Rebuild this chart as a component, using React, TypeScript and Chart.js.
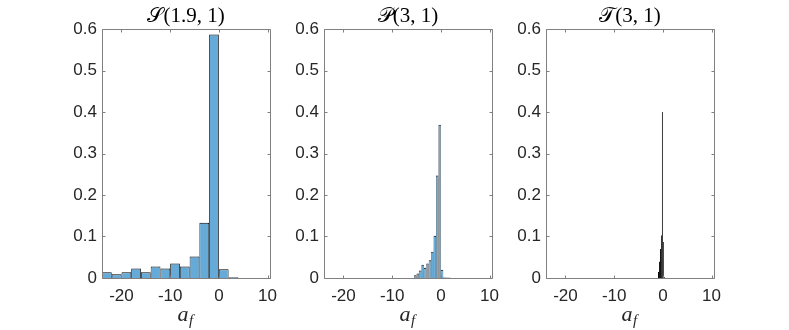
import React, { useEffect, useRef } from "react";
import { Chart, registerables } from "chart.js";

Chart.register(...registerables);

// ---- data ----
const xTicks = [-20, -10, 0, 10];
const xTickLabels = ["-20", "-10", "0", "10"];
const yTicks = [0, 0.1, 0.2, 0.3, 0.4, 0.5, 0.6];
const yTickLabels = ["0", "0.1", "0.2", "0.3", "0.4", "0.5", "0.6"];
const titles = ["𝒮(1.9, 1)", "𝒫(3, 1)", "𝒯(3, 1)"];

// S(1.9,1): bin width 2
const sCenters = [-23, -21, -19, -17, -15, -13, -11, -9, -7, -5, -3, -1, 1, 3];
const sValues = [0.0137, 0.009, 0.0137, 0.0226, 0.0137, 0.028, 0.0226, 0.035, 0.028, 0.052, 0.133, 0.587, 0.021, 0.0016];

// P(3,1): bin width 0.5
const pCenters = [-5.25, -4.75, -4.25, -3.75, -3.25, -2.75, -2.25, -1.75, -1.25, -0.75, -0.25, 0.25, 0.75, 1.25, 1.75];
const pValues = [0.0064, 0.011, 0.018, 0.032, 0.025, 0.035, 0.043, 0.063, 0.102, 0.247, 0.369, 0.02, 0.002, 0.001, 0.001];

// T(3,1): bin width 0.2
const tCenters = [-0.9, -0.7, -0.5, -0.3, -0.1, 0.1, 0.3];
const tValues = [0.015, 0.04, 0.07, 0.103, 0.4, 0.087, 0.003];

const X_MIN = -24;
const X_MAX = 10.5;
const Y_MIN = 0;
const Y_MAX = 0.6;

// ---- styles / layout ----
const FILL = "rgb(102,170,215)";
const EDGE = "rgb(0,0,0)";
const AXIS = "rgb(128,128,128)";
const TEXT = "rgb(38,38,38)";
const AXW = 70;
const PADR = 30;
const PLOT_W = 168;
const CANVAS_W = AXW + PLOT_W + PADR;
const CANVAS_H = 330;
const PLOT_TOP = 29;
const XAXIS_H = 52;
const TICK_LEN = 3;
const panelLefts = [102, 324, 546];
const panelEdgeWidths = [0.8, 0.5, 1];

const framePlugin = {
  id: "frame",
  afterDatasetsDraw(chart: any, _args: any, opts: any) {
    const { ctx, chartArea: a, scales } = chart;
    const x = scales.x;
    const y = scales.y;
    const L = Math.round(a.left) + 0.5;
    const R = Math.round(a.right) + 0.5;
    const T = Math.round(a.top) + 0.5;
    const B = Math.round(a.bottom) + 0.5;
    ctx.save();
    ctx.strokeStyle = AXIS;
    ctx.lineWidth = 1;
    ctx.beginPath();
    ctx.rect(L, T, R - L, B - T);
    for (const v of xTicks) {
      const px = Math.round(x.getPixelForValue(v)) + 0.5;
      ctx.moveTo(px, B);
      ctx.lineTo(px, B - TICK_LEN);
      ctx.moveTo(px, T);
      ctx.lineTo(px, T + TICK_LEN);
    }
    for (const v of yTicks) {
      const py = Math.round(y.getPixelForValue(v)) + 0.5;
      ctx.moveTo(L, py);
      ctx.lineTo(L + TICK_LEN, py);
      ctx.moveTo(R, py);
      ctx.lineTo(R - TICK_LEN, py);
    }
    ctx.stroke();

    // title
    const cx = (a.left + a.right) / 2;
    ctx.fillStyle = "rgb(0,0,0)";
    ctx.font = "21px 'Liberation Serif', 'DejaVu Serif', serif";
    ctx.textAlign = "center";
    ctx.textBaseline = "alphabetic";
    ctx.fillText(opts.title, cx, 22);

    // x label a_f
    ctx.textAlign = "left";
    ctx.font = "italic 22px 'Liberation Serif', serif";
    const wa = ctx.measureText("a").width;
    ctx.font = "italic 15px 'Liberation Serif', serif";
    const wf = ctx.measureText("f").width;
    const start = cx - (wa + wf) / 2 - 1;
    ctx.fillStyle = "rgb(38,38,38)";
    ctx.font = "italic 22px 'Liberation Serif', serif";
    ctx.fillText("a", start, 321);
    ctx.font = "italic 15px 'Liberation Serif', serif";
    ctx.fillText("f", start + wa + 0.5, 325);
    ctx.restore();
  },
};

function Panel(props: { left: number; title: string; centers: number[]; values: number[]; edge: number }) {
  const ref = useRef<HTMLCanvasElement>(null);
  useEffect(() => {
    const chart = new Chart(ref.current as HTMLCanvasElement, {
      type: "bar",
      data: {
        datasets: [
          {
            data: props.centers.map((c, i) => ({ x: c, y: props.values[i] })),
            backgroundColor: FILL,
            borderColor: EDGE,
            borderWidth: { top: 1, left: props.edge, right: props.edge, bottom: 0 },
            inflateAmount: 0,
            barPercentage: 1,
            categoryPercentage: 1,
          } as any,
        ],
      },
      options: {
        animation: false,
        responsive: false,
        maintainAspectRatio: false,
        layout: { padding: { top: PLOT_TOP, right: PADR, left: 0, bottom: 0 } },
        plugins: {
          legend: { display: false },
          tooltip: { enabled: false },
          frame: { title: props.title },
        } as any,
        scales: {
          x: {
            type: "linear",
            min: X_MIN,
            max: X_MAX,
            offset: false,
            grid: { display: false, drawTicks: false },
            border: { display: false },
            afterBuildTicks: (s: any) => {
              s.ticks = xTicks.map((v) => ({ value: v }));
            },
            afterFit: (s: any) => {
              s.height = XAXIS_H;
            },
            ticks: {
              callback: (v: any) => xTickLabels[xTicks.indexOf(Number(v))] ?? "",
              font: { family: "'Liberation Sans', Arial, sans-serif", size: 17 },
              color: TEXT,
              padding: 8,
              maxRotation: 0,
              autoSkip: false,
            },
          },
          y: {
            type: "linear",
            min: Y_MIN,
            max: Y_MAX,
            grid: { display: false, drawTicks: false },
            border: { display: false },
            afterBuildTicks: (s: any) => {
              s.ticks = yTicks.map((v) => ({ value: v }));
            },
            afterFit: (s: any) => {
              s.width = AXW;
            },
            ticks: {
              callback: (v: any) => {
                const i = yTicks.findIndex((t) => Math.abs(t - Number(v)) < 1e-9);
                return i >= 0 ? yTickLabels[i] : "";
              },
              font: { family: "'Liberation Sans', Arial, sans-serif", size: 17 },
              color: TEXT,
              padding: 5,
              autoSkip: false,
            },
          },
        },
      } as any,
      plugins: [framePlugin as any],
    });
    return () => chart.destroy();
  }, []);
  return (
    <canvas
      ref={ref}
      width={CANVAS_W}
      height={CANVAS_H}
      style={{ position: "absolute", left: props.left - AXW, top: 0, width: CANVAS_W, height: CANVAS_H }}
    />
  );
}

export default function App() {
  return (
    <div style={{ position: "fixed", left: 0, top: 0, width: 789, height: 330, background: "#fff", overflow: "hidden" }}>
      <Panel left={panelLefts[0]} title={titles[0]} centers={sCenters} values={sValues} edge={panelEdgeWidths[0]} />
      <Panel left={panelLefts[1]} title={titles[1]} centers={pCenters} values={pValues} edge={panelEdgeWidths[1]} />
      <Panel left={panelLefts[2]} title={titles[2]} centers={tCenters} values={tValues} edge={panelEdgeWidths[2]} />
    </div>
  );
}
